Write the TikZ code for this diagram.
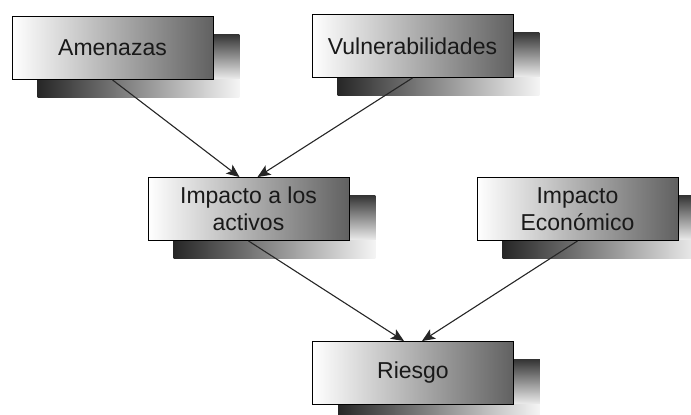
\documentclass[tikz,border=0pt]{standalone}
\usepackage{fontspec}
\setmainfont{Liberation Sans}
\usetikzlibrary{arrows.meta,backgrounds}
\begin{document}
\begin{tikzpicture}[x=1pt,y=-1pt,
  box/.style={draw=black, line width=0.9pt, minimum width=201pt, minimum height=63pt,
    left color=white, middle color=black!18, right color=black!62,
    align=center, font=\fontsize{23}{27}\selectfont, text=black!90, inner sep=0pt},
  shadowbottom/.style={left color=black!85, middle color=black!45, right color=black!4},
  shadowside/.style={top color=black!80, bottom color=black!6},
  link/.style={draw=black!85, line width=1.1pt,
    -{Stealth[length=13pt,width=11pt,inset=3pt]}}]
\useasboundingbox (0,0) rectangle (691,415);
\clip (0,0) rectangle (691,415);

% front boxes
\node[box] (am) at (112.5,48) {Amenazas};
\node[box] (vu) at (412.5,46) {Vulnerabilidades};
\node[box] (ia) at (248.5,209) {Impacto a los\\activos};
\node[box] (ie) at (577.5,209) {Impacto\\Económico};
\node[box] (ri) at (413,373) {Riesgo};

% connectors
\draw[link] (am.south) -- ([xshift=-9pt]ia.north);
\draw[link] (vu.south) -- ([xshift=9pt]ia.north);
\draw[link] (ia.south) -- ([xshift=-9pt]ri.north);
\draw[link] (ie.south) -- ([xshift=9pt]ri.north);

% offset shadow block behind each box: a side strip and a bottom strip
\begin{scope}[on background layer]
  \foreach \n in {am,vu,ia,ie,ri}{
    \shade[shadowside] ([shift={(0,18)}]\n.north east) rectangle ([shift={(26,0)}]\n.south east);
    \shade[shadowbottom] ([shift={(26,0)}]\n.south west) rectangle ([shift={(26,18)}]\n.south east);
  }
\end{scope}
\end{tikzpicture}
\end{document}
